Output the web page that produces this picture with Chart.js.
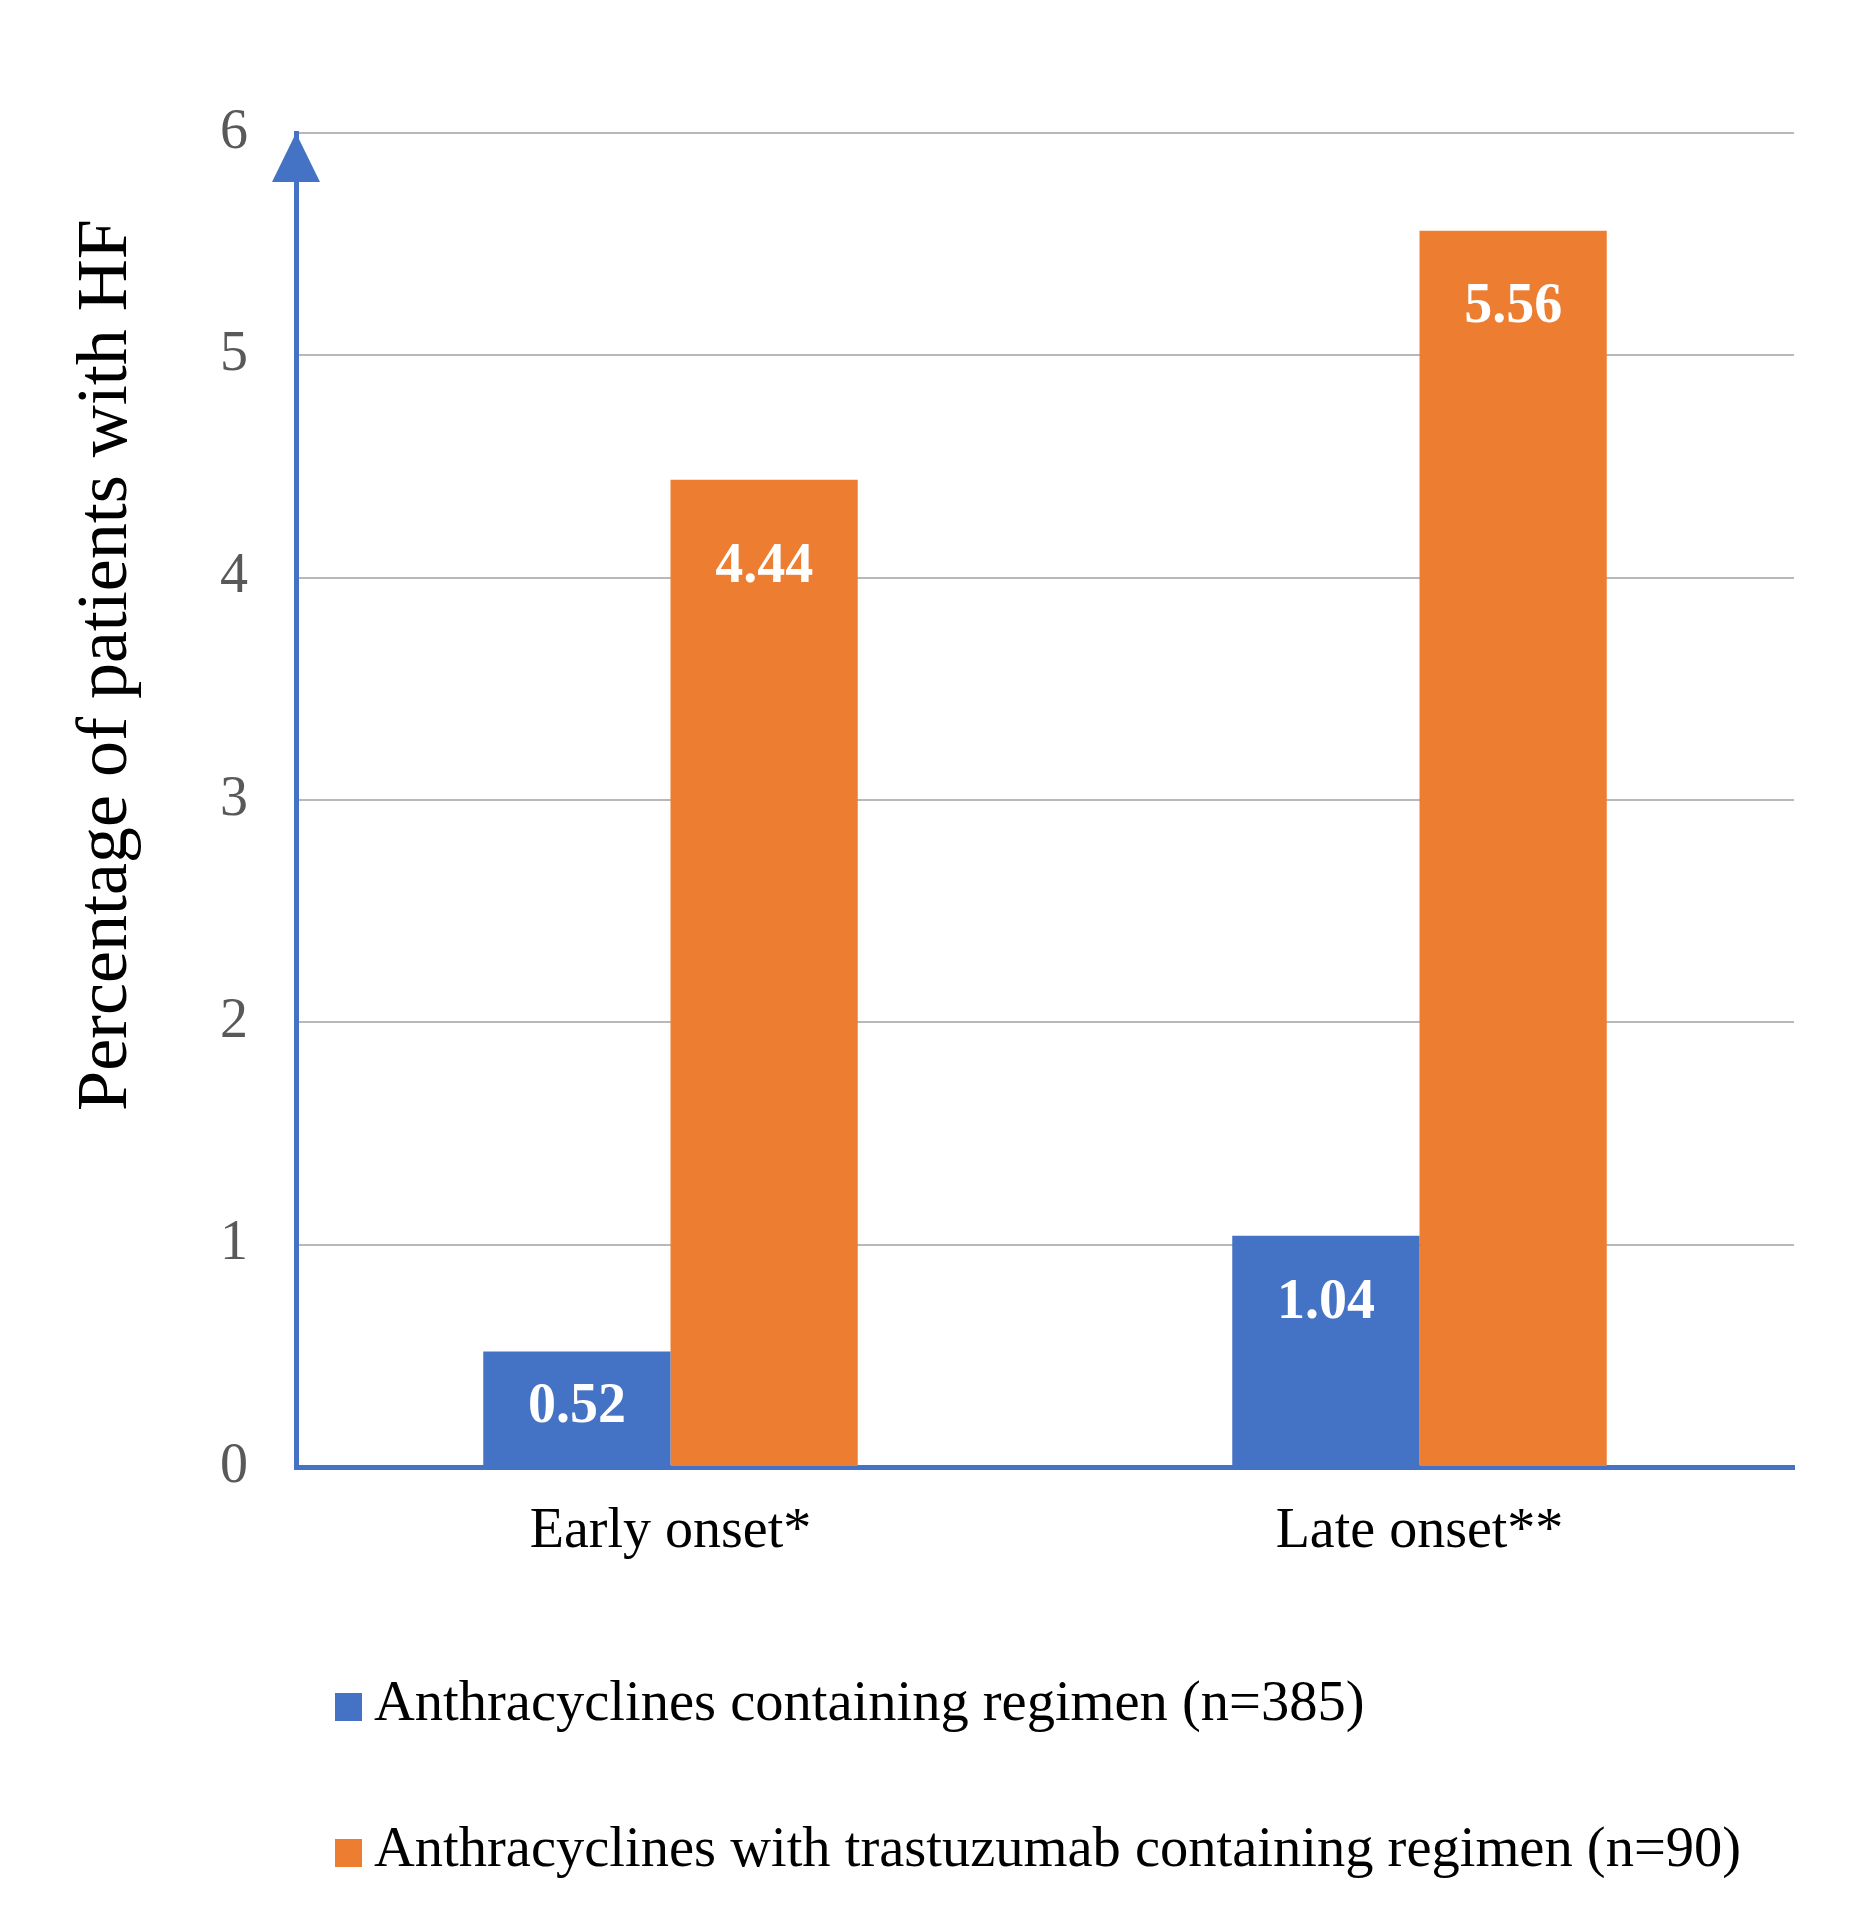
<!DOCTYPE html>
<html>
<head>
<meta charset="utf-8">
<title>Percentage of patients with HF</title>
<script src="https://cdn.jsdelivr.net/npm/chart.js@4.4.1/dist/chart.umd.min.js"></script>
<style>
  html, body { margin: 0; padding: 0; background: #fff; }
  canvas { display: block; }
</style>
</head>
<body>
<canvas id="hfChart" width="1869" height="1919"></canvas>
<script>
// --- data ---
const categories = ['Early onset*', 'Late onset**'];
const seriesNames = [
  'Anthracyclines containing regimen (n=385)',
  'Anthracyclines with trastuzumab containing regimen (n=90)'
];
const anthraOnly = [0.52, 1.04];
const anthraTrast = [4.44, 5.56];
const yTitle = 'Percentage of patients with HF';

const BLUE = '#4472C4';
const ORANGE = '#ED7D31';
const FONT = '"Liberation Serif", "Times New Roman", serif';

// extras drawn on top: value labels, axis arrow, y title, legend
const extras = {
  id: 'extras',
  afterDatasetsDraw(chart) {
    const ctx = chart.ctx;
    // distance of each value label below its bar top (px)
    const offsets = [[56, 68], [88, 77]];
    ctx.save();
    ctx.fillStyle = '#fff';
    ctx.font = 'bold 56px ' + FONT;
    ctx.textAlign = 'center';
    ctx.textBaseline = 'middle';
    chart.data.datasets.forEach((ds, di) => {
      chart.getDatasetMeta(di).data.forEach((bar, i) => {
        ctx.fillText(ds.data[i].toFixed(2), bar.x, bar.y + offsets[di][i]);
      });
    });
    ctx.restore();
  },
  afterDraw(chart) {
    const ctx = chart.ctx;
    const area = chart.chartArea;
    const yTop = chart.scales.y.getPixelForValue(6);
    ctx.save();

    // arrow head on the y axis
    ctx.fillStyle = BLUE;
    ctx.beginPath();
    ctx.moveTo(area.left, yTop);
    ctx.lineTo(area.left - 24, yTop + 49);
    ctx.lineTo(area.left + 24, yTop + 49);
    ctx.closePath();
    ctx.fill();

    // y axis title
    ctx.fillStyle = '#000';
    ctx.font = '72px ' + FONT;
    ctx.textAlign = 'center';
    ctx.textBaseline = 'middle';
    ctx.translate(107, 665);
    ctx.rotate(-Math.PI / 2);
    ctx.fillText(yTitle, 0, 0);
    ctx.restore();

    // legend, one item per row
    ctx.save();
    ctx.font = '56.5px ' + FONT;
    ctx.textAlign = 'left';
    ctx.textBaseline = 'middle';
    const rows = [area.bottom + 240, area.bottom + 386];
    chart.data.datasets.forEach((ds, di) => {
      const cy = rows[di];
      ctx.fillStyle = ds.backgroundColor;
      ctx.fillRect(335, cy - 14, 27, 28);
      ctx.fillStyle = '#000';
      ctx.fillText(ds.label, 374, cy - 2);
    });
    ctx.restore();
  }
};

new Chart(document.getElementById('hfChart'), {
  type: 'bar',
  data: {
    labels: categories,
    datasets: [
      { label: seriesNames[0], data: anthraOnly, backgroundColor: BLUE },
      { label: seriesNames[1], data: anthraTrast, backgroundColor: ORANGE }
    ]
  },
  options: {
    responsive: false,
    animation: false,
    layout: { padding: { top: 133, right: 75, bottom: 0, left: 0 } },
    datasets: { bar: { barPercentage: 1, categoryPercentage: 0.5 } },
    plugins: {
      legend: { display: false },
      tooltip: { enabled: false }
    },
    scales: {
      x: {
        z: 1,
        grid: { display: false, drawTicks: false },
        border: { color: BLUE, width: 5 },
        ticks: { color: '#000', padding: 32, font: { family: FONT, size: 56 } },
        afterFit(scale) { scale.height = 452; }
      },
      y: {
        min: 0,
        max: 6,
        grid: { color: '#b8b8b8', lineWidth: 2, drawTicks: false },
        border: { color: BLUE, width: 5 },
        ticks: { stepSize: 1, color: '#595959', padding: 48, font: { family: FONT, size: 56 } },
        afterFit(scale) { scale.width = 296; }
      }
    }
  },
  plugins: [extras]
});
</script>
</body>
</html>
